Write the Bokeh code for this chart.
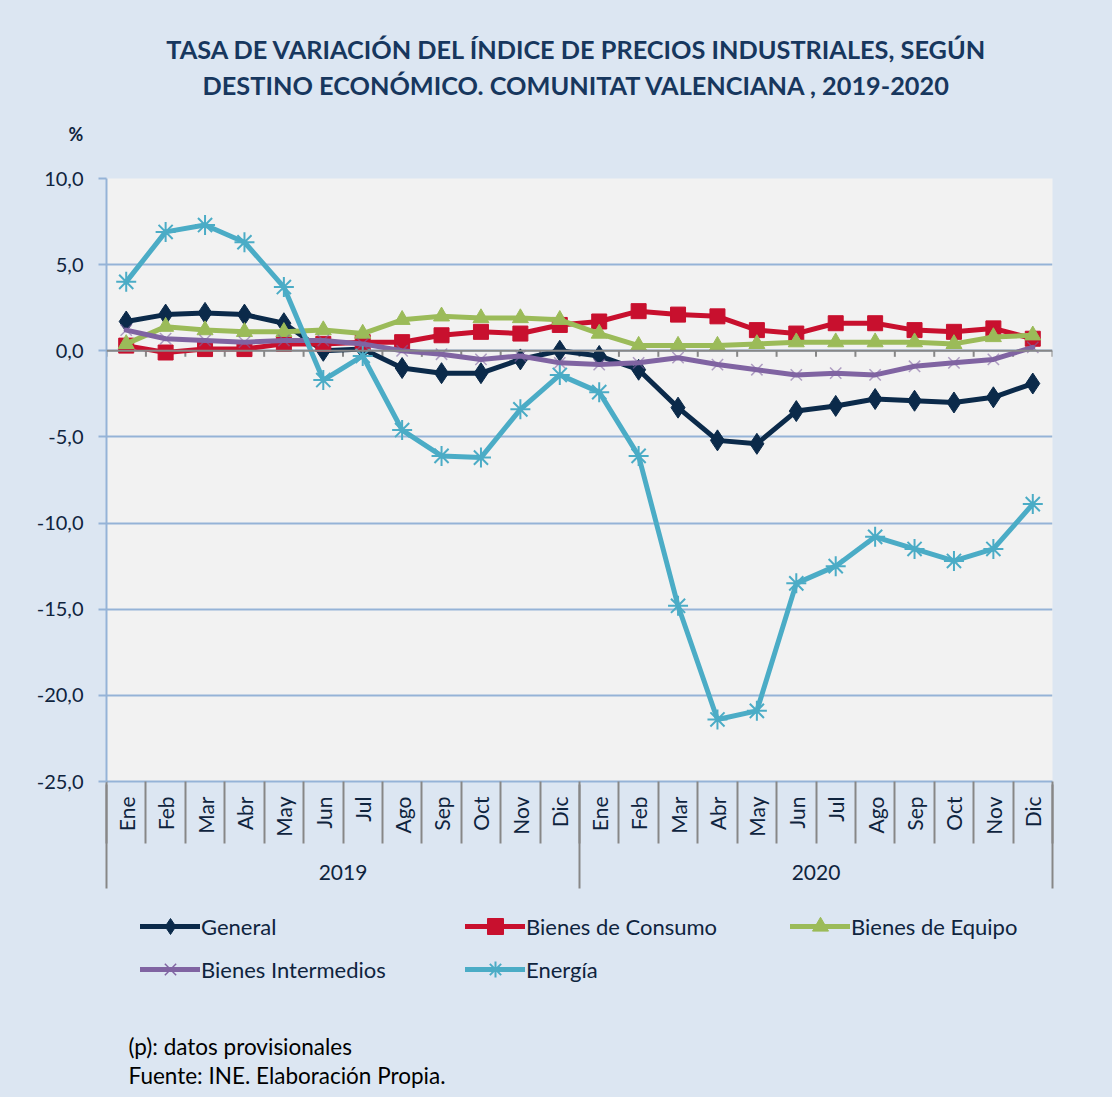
import numpy as np
from bokeh.plotting import figure
from bokeh.layouts import column
from bokeh.models import (Range1d, FixedTicker, LinearAxis, Legend, LegendItem, Span, Label, Title)
from bokeh.embed import file_html
from bokeh.resources import INLINE

# ---------------- data ----------------
months = ["Ene", "Feb", "Mar", "Abr", "May", "Jun", "Jul", "Ago", "Sep", "Oct", "Nov", "Dic"]
years = ["2019", "2020"]
y_ticks = [10, 5, 0, -5, -10, -15, -20, -25]
y_tick_labels = ["10,0", "5,0", "0,0", "-5,0", "-10,0", "-15,0", "-20,0", "-25,0"]

general = [1.7, 2.1, 2.2, 2.1, 1.6, 0.0, 0.1, -1.0, -1.3, -1.3, -0.5, 0.0,
           -0.3, -1.1, -3.3, -5.2, -5.4, -3.5, -3.2, -2.8, -2.9, -3.0, -2.7, -1.9]
consumo = [0.3, -0.1, 0.1, 0.1, 0.4, 0.4, 0.5, 0.5, 0.9, 1.1, 1.0, 1.5,
           1.7, 2.3, 2.1, 2.0, 1.2, 1.0, 1.6, 1.6, 1.2, 1.1, 1.3, 0.7]
equipo = [0.4, 1.4, 1.2, 1.1, 1.1, 1.2, 1.0, 1.8, 2.0, 1.9, 1.9, 1.8,
          1.0, 0.3, 0.3, 0.3, 0.4, 0.5, 0.5, 0.5, 0.5, 0.4, 0.8, 0.9]
intermedios = [1.2, 0.7, 0.6, 0.5, 0.6, 0.6, 0.4, 0.0, -0.2, -0.5, -0.3, -0.7,
               -0.8, -0.7, -0.4, -0.8, -1.1, -1.4, -1.3, -1.4, -0.9, -0.7, -0.5, 0.2]
energia = [4.0, 6.9, 7.3, 6.3, 3.7, -1.7, -0.3, -4.6, -6.1, -6.2, -3.4, -1.4,
           -2.4, -6.1, -14.8, -21.4, -20.9, -13.5, -12.5, -10.8, -11.5, -12.2, -11.5, -8.9]

series_names = ["General", "Bienes de Consumo", "Bienes de Equipo", "Bienes Intermedios", "Energía"]
title_lines = ["TASA DE VARIACIÓN DEL ÍNDICE DE PRECIOS INDUSTRIALES, SEGÚN",
               "DESTINO ECONÓMICO. COMUNITAT VALENCIANA , 2019-2020"]
y_unit = "%"
notes = ["(p): datos provisionales", "Fuente:  INE.  Elaboración Propia."]

# ---------------- styles ----------------
NAVY = "#0B2A4A"
RED = "#C8102E"
GREEN = "#9BBB59"
PURPLE = "#8064A2"
AQUA = "#4BACC6"
BG = "#DCE6F2"
PLOT_BG = "#F2F2F2"
GRID = "#95B3D7"
SEP = "#878787"
TXT = "#0F243E"
TITLE_C = "#17375E"
FONT = "Lato"

W = 1112
FL, FW, FH = 106, 946, 603
HEAD_FRAME = 104     # header area holding the two title lines
UNIT_BOX = 60        # panel under the header holding the unit label
MAIN_TOP = 14
MAIN_BOTTOM = 109
FOOT_H = 207
YMIN, YMAX = -25, 10
N = len(months) * len(years)


def blank(height, frame_h):
    # frames of figures in a column are aligned with the main frame (x = 106..1052)
    f = figure(width=W, height=height, output_backend="svg", toolbar_location=None,
               x_range=Range1d(FL, FL + FW), y_range=Range1d(frame_h, 0),
               x_axis_location=None, y_axis_location=None, min_border=0)
    f.title.visible = False
    f.grid.visible = False
    f.outline_line_color = None
    f.background_fill_alpha = 0
    f.border_fill_color = BG
    return f


# ---------------- header ----------------
head = blank(HEAD_FRAME + UNIT_BOX, HEAD_FRAME)
for t, py in zip(title_lines, [50, 87]):
    head.add_layout(Label(x=576.5, y=py, text=t, text_align="center", text_baseline="middle",
                          text_font=FONT, text_font_size="25.3px", text_font_style="bold",
                          text_color=TITLE_C))
head.add_layout(Title(text=y_unit, align="left", offset=-38, standoff=UNIT_BOX - 21,
                      text_font=FONT, text_font_size="18px", text_font_style="bold",
                      text_color=TXT), "below")

# ---------------- main chart ----------------
p = figure(frame_width=FW, frame_height=FH, output_backend="svg", toolbar_location=None,
           x_range=Range1d(0, N), y_range=Range1d(YMIN, YMAX),
           min_border_left=FL, min_border_right=W - FL - FW,
           min_border_top=MAIN_TOP, min_border_bottom=MAIN_BOTTOM)
p.title.visible = False
p.border_fill_color = BG
p.background_fill_color = PLOT_BG
p.outline_line_color = None

p.yaxis.ticker = FixedTicker(ticks=y_ticks, minor_ticks=[])
p.yaxis.major_label_overrides = {t: l for t, l in zip(y_ticks, y_tick_labels)}
p.yaxis.axis_line_color = GRID
p.yaxis.axis_line_width = 2
p.yaxis.major_tick_line_color = GRID
p.yaxis.major_tick_line_width = 2
p.yaxis.major_tick_out = 8
p.yaxis.major_tick_in = 0
p.yaxis.major_label_standoff = 15
p.yaxis.major_label_text_font = FONT
p.yaxis.major_label_text_font_size = "20px"
p.yaxis.major_label_text_color = TXT

p.ygrid.ticker = FixedTicker(ticks=y_ticks, minor_ticks=[])
p.ygrid.grid_line_color = GRID
p.ygrid.grid_line_width = 2
p.xgrid.visible = False

centers = [i + 0.5 for i in range(N)]
boundaries = list(range(N + 1))
year_bounds = list(range(0, N + 1, len(months)))
year_centers = [(year_bounds[i] + year_bounds[i + 1]) / 2 for i in range(len(years))]

# x axis 1: months, separators as minor ticks
xa = p.xaxis[0]
xa.ticker = FixedTicker(ticks=centers, minor_ticks=boundaries)
xa.major_label_overrides = {c: m for c, m in zip(centers, months * len(years))}
xa.major_label_orientation = np.pi / 2
xa.major_label_standoff = -47
xa.major_label_text_font = FONT
xa.major_label_text_font_size = "21px"
xa.major_label_text_color = TXT
xa.axis_line_color = GRID
xa.axis_line_width = 2
xa.major_tick_out = 0
xa.major_tick_in = 0
xa.major_tick_line_color = None
xa.minor_tick_out = 62
xa.minor_tick_in = 0
xa.minor_tick_line_color = SEP
xa.minor_tick_line_width = 2

# x axis 2: years
xa2 = LinearAxis(ticker=FixedTicker(ticks=year_centers, minor_ticks=year_bounds),
                 major_label_overrides={c: y for c, y in zip(year_centers, years)},
                 axis_line_color=None, major_tick_line_color=None,
                 major_tick_out=0, major_tick_in=0,
                 minor_tick_in=55, minor_tick_out=49,
                 minor_tick_line_color=SEP, minor_tick_line_width=2,
                 major_label_standoff=-24,
                 major_label_text_font=FONT, major_label_text_font_size="21px",
                 major_label_text_color=TXT)
p.add_layout(xa2, "below")

# zero line (category axis crossing at 0) with small ticks
p.add_layout(Span(location=0, dimension="width", line_color=SEP, line_width=2))
p.segment(x0=boundaries, y0=[0] * len(boundaries), x1=boundaries,
          y1=[-0.35] * len(boundaries), line_color=SEP, line_width=2)

specs = [
    (general, NAVY, "diamond", 21, 1, 1.0),
    (consumo, RED, "square", 15, 1, 1.0),
    (equipo, GREEN, "triangle", 16, 1, 1.0),
    (intermedios, PURPLE, "x", 16, 1.5, 0.6),
    (energia, AQUA, "asterisk", 20, 2, 1.0),
]
for vals, color, marker, size, mlw, malpha in specs:
    p.line(centers, vals, line_color=color, line_width=5, line_join="round", line_cap="round")
    p.scatter(centers, vals, marker=marker, size=size, fill_color=color,
              line_color=color, line_width=mlw, line_alpha=malpha)

# ---------------- legend + notes ----------------
foot = blank(FOOT_H, FOOT_H)
items = []
for name, (vals, color, marker, size, mlw, malpha) in zip(series_names, specs):
    # same series drawn here only to feed the legend; they fall outside this panel's range
    lr = foot.line(centers, vals, line_color=color, line_width=5, line_cap="round")
    sr = foot.scatter(centers, vals, marker=marker, size=size, fill_color=color,
                      line_color=color, line_width=mlw, line_alpha=1.0)
    items.append(LegendItem(label=name, renderers=[lr, sr]))

GLYPH_H = 40
rows = [items[:3], items[3:]]
row_centers = [36, 79]
for row, cy in zip(rows, row_centers):
    foot.add_layout(Legend(items=row, orientation="horizontal",
                           location=(140 - FL, FOOT_H - (cy + GLYPH_H // 2)),
                           padding=0, margin=0, spacing=23,
                           glyph_width=60, glyph_height=GLYPH_H, label_standoff=1,
                           label_height=20, label_width=241,
                           background_fill_alpha=0, border_line_alpha=0,
                           label_text_font=FONT, label_text_font_size="22px",
                           label_text_color=TXT))

for t, py in zip(notes, [156, 185]):
    foot.add_layout(Label(x=128, y=py, text=t, text_align="left", text_baseline="middle",
                          text_font=FONT, text_font_size="22.5px", text_color="#000000"))

layout = column(head, p, foot, spacing=0, styles={"background-color": BG})
open("out.html", "w").write(file_html(layout, INLINE))
